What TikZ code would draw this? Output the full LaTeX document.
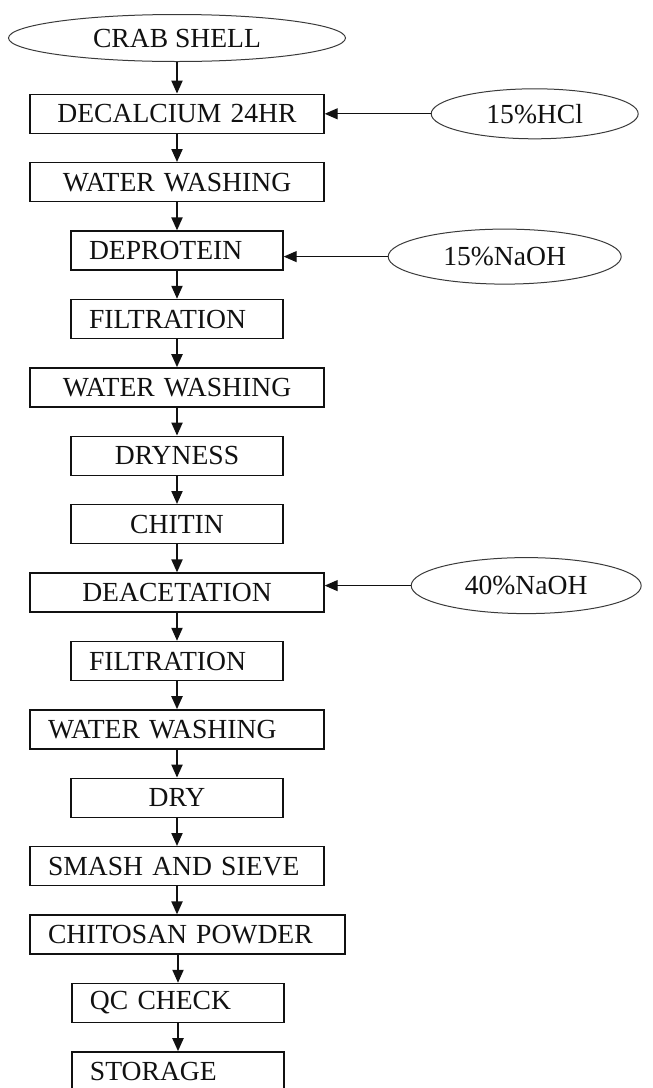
\documentclass[tikz,border=0pt]{standalone}
\usepackage{fontspec}
\setmainfont{Liberation Serif}
\usetikzlibrary{arrows.meta, positioning, shapes.geometric}
\definecolor{ink}{HTML}{111111}
\definecolor{rim}{HTML}{3A3A3A}
\tikzset{
  stepbox/.style={rectangle, draw=ink, line width=0.7pt, minimum height=19.5pt,
                  inner xsep=9pt, inner ysep=0pt, text=ink, align=center,
                  font=\fontsize{13.8}{16}\selectfont},
  wide/.style={stepbox, text width=129pt},
  narrow/.style={stepbox, text width=88pt},
  flushl/.style={align=left},
  agent/.style={ellipse, draw=rim, line width=0.5pt, inner sep=0pt, text=ink,
                font=\fontsize{13.8}{16}\selectfont},
  arrow/.style={-{Triangle[length=6.5pt, width=5.5pt]}, line width=1pt, draw=ink},
  feed/.style={arrow, line width=0.6pt},
}

\begin{document}
\begin{tikzpicture}[node distance=14pt]
  \useasboundingbox (0,0) rectangle (326.5pt,-544pt);
  \node[agent, minimum width=168.5pt, minimum height=23.5pt] (crab) at (88.5pt,-19pt) {CRAB SHELL};
  \node[wide, below=15.8pt of crab] (decal) {DECALCIUM 24HR};
  \node[wide, below=of decal] (wash1) {WATER WASHING};
  \node[narrow, flushl, below=of wash1] (deprot) {DEPROTEIN};
  \node[narrow, flushl, below=of deprot] (filt1) {FILTRATION};
  \node[wide, below=of filt1] (wash2) {WATER WASHING};
  \node[narrow, below=of wash2] (dryness) {DRYNESS};
  \node[narrow, below=of dryness] (chitin) {CHITIN};
  \node[wide, below=of chitin] (deacet) {DEACETATION};
  \node[narrow, flushl, below=of deacet] (filt2) {FILTRATION};
  \node[wide, flushl, below=of filt2] (wash3) {WATER WASHING};
  \node[narrow, below=of wash3] (dry) {DRY};
  \node[wide, flushl, below=of dry] (smash) {SMASH AND SIEVE};
  \node[stepbox, text width=139.5pt, flushl, below right=14pt and 0pt of smash.south west] (powder) {CHITOSAN POWDER};
  \node[narrow, flushl, below right=14pt and 21pt of powder.south west] (qc) {QC CHECK};
  \node[narrow, flushl, below=of qc] (store) {STORAGE};

  \node[agent, minimum width=103.5pt, minimum height=25pt, right=53pt of decal] (hcl) {15\%HCl};
  \node[agent, minimum width=116.5pt, minimum height=27.5pt, right=52pt of deprot, yshift=-3pt] (naoha) {15\%NaOH};
  \node[agent, minimum width=115pt, minimum height=28pt, right=43pt of deacet, yshift=3.5pt] (naohb) {40\%NaOH};

  \draw[arrow] (crab) -- (decal);
  \draw[arrow] (decal) -- (wash1);
  \draw[arrow] (wash1) -- (deprot);
  \draw[arrow] (deprot) -- (filt1);
  \draw[arrow] (filt1) -- (wash2);
  \draw[arrow] (wash2) -- (dryness);
  \draw[arrow] (dryness) -- (chitin);
  \draw[arrow] (chitin) -- (deacet);
  \draw[arrow] (deacet) -- (filt2);
  \draw[arrow] (filt2) -- (wash3);
  \draw[arrow] (wash3) -- (dry);
  \draw[arrow] (dry) -- (smash);
  \draw[arrow] (smash.south) -- (smash.south |- powder.north);
  \draw[arrow] (qc.north |- powder.south) -- (qc);
  \draw[arrow] (qc) -- (store);

  \draw[feed] (hcl) -- (decal);
  \draw[feed] (naoha) -- (naoha -| deprot.east);
  \draw[feed] (naohb) -- (naohb -| deacet.east);
\end{tikzpicture}
\end{document}
